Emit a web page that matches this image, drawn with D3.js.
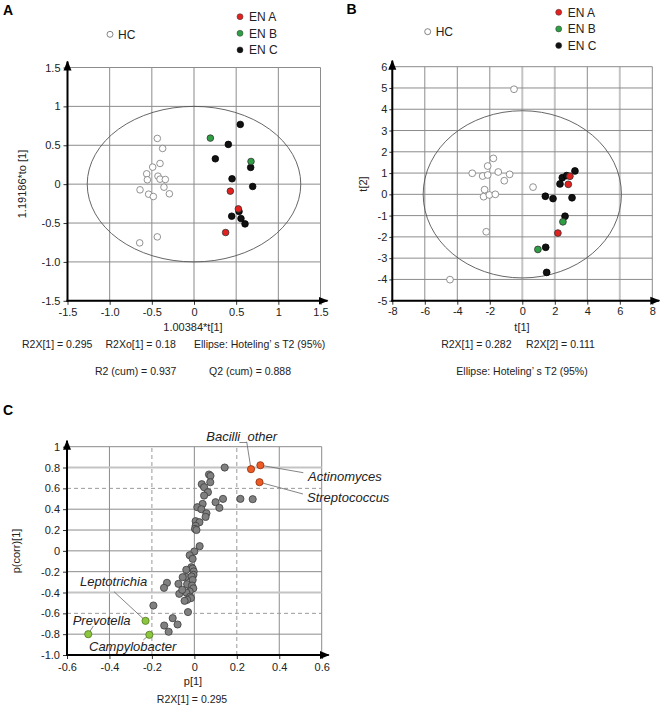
<!DOCTYPE html>
<html><head><meta charset="utf-8">
<script src="https://cdn.jsdelivr.net/npm/d3@7"></script>
<style>
body{margin:0;background:#fff;}
svg{display:block;font-family:"Liberation Sans",Arial,sans-serif;}
</style></head>
<body>
<svg id="chart" width="660" height="709"></svg>
<script>
// ---------- DATA ----------
// Panel A : OPLS-DA scores  [t1*, to*]
const aHC = [[-0.435,0.588],[-0.372,0.459],[-0.403,0.266],[-0.49,0.219],[-0.561,0.133],[-0.553,0.056],[-0.427,0.103],[-0.403,0.064],[-0.34,0.06],[-0.356,-0.039],[-0.64,-0.073],[-0.538,-0.129],[-0.482,-0.159],[-0.292,-0.124],[-0.435,-0.678],[-0.644,-0.755]];
const aENC = [[0.549,0.768],[0.407,0.511],[0.253,0.326],[0.672,0.215],[0.451,0.069],[0.696,-0.03],[0.534,-0.352],[0.447,-0.412],[0.557,-0.442],[0.605,-0.511]];
const aENB = [[0.194,0.592],[0.676,0.292]];
const aENA = [[0.431,-0.09],[0.526,-0.318],[0.375,-0.622]];
const aEllipse = [1.266, 1.0];
const aTicks = [-1.5,-1,-0.5,0,0.5,1,1.5];
const aTickLabels = ["-1.5","-1.0","-0.5","0","0.5","1","1.5"];

// Panel B : PCA scores [t1, t2]
const bHC = [[-0.51,4.94],[-1.78,1.69],[-2.13,1.33],[-3.08,0.99],[-2.44,0.86],[-2.13,0.91],[-1.48,1.05],[-0.78,0.94],[-1.11,0.64],[0.66,0.34],[-2.32,0.22],[-2.38,-0.11],[-2.03,-0.03],[-1.66,0.0],[-2.22,-1.76],[-4.45,-4.01]];
const bENC = [[3.24,1.10],[2.46,0.78],[2.73,0.88],[2.32,0.49],[1.42,-0.09],[1.89,-0.20],[3.06,-0.16],[2.63,-1.03],[1.44,-2.49],[1.50,-3.67]];
const bENB = [[2.50,-1.29],[0.96,-2.59]];
const bENA = [[2.93,0.85],[2.83,0.47],[2.19,-1.82]];
const bEllipse = [6.1, 3.93];
const bXTicks = [-8,-6,-4,-2,0,2,4,6,8];
const bYTicks = [-5,-4,-3,-2,-1,0,1,2,3,4,5,6];

// Panel C : S-plot [p1, p(corr)1]
const cGray = [[0.143,0.80],[0.069,0.733],[0.076,0.72],[0.075,0.659],[0.035,0.64],[0.046,0.611],[0.064,0.563],[0.046,0.531],[0.135,0.499],[0.217,0.499],[0.275,0.496],[0.100,0.467],[0.118,0.413],[0.039,0.451],[0.014,0.419],[0.033,0.400],[0.057,0.361],[0.053,0.326],[0.006,0.285],[0.024,0.275],[0.006,0.240],[0.003,0.211],[0.010,0.200],[0.025,0.045],[0.000,-0.006],[-0.022,-0.042],[-0.008,-0.077],[-0.014,-0.157],[-0.008,-0.170],[-0.038,-0.182],[-0.003,-0.198],[-0.004,-0.23],[-0.040,-0.250],[-0.055,-0.253],[-0.013,-0.246],[-0.008,-0.28],[-0.129,-0.307],[-0.075,-0.317],[-0.034,-0.320],[-0.143,-0.355],[-0.011,-0.333],[-0.005,-0.36],[-0.022,-0.390],[-0.038,-0.400],[-0.071,-0.413],[-0.057,-0.374],[-0.02,-0.44],[-0.016,-0.454],[-0.034,-0.470],[-0.046,-0.480],[-0.030,-0.588],[-0.193,-0.525],[-0.142,-0.717],[-0.121,-0.777],[-0.102,-0.646],[-0.079,-0.707]];
const cOrangeNames = ["Bacilli_other","Actinomyces","Streptococcus"];
const cOrange = [[0.267,0.784],[0.311,0.822],[0.307,0.659]];
const cGreenNames = ["Leptotrichia","Prevotella","Campylobacter"];
const cGreen = [[-0.23,-0.672],[-0.5,-0.80],[-0.212,-0.806]];
const cXTicks = [-0.6,-0.4,-0.2,0,0.2,0.4,0.6];
const cXTickLabels = ["-0.6","-0.4","-0.2","0","0.2","0.4","0.6"];
const cYTicks = [-1,-0.8,-0.6,-0.4,-0.2,0,0.2,0.4,0.6,0.8,1];
const cYTickLabels = ["-1.0","-0.8","-0.6","-0.4","-0.2","0","0.2","0.4","0.6","0.8","1"];

const groups = ["HC","EN A","EN B","EN C"];
const groupColors = {"HC":"#ffffff","EN A":"#e3211f","EN B":"#2f9e44","EN C":"#111111"};

// ---------- DRAW ----------
const svg = d3.select("#chart");
svg.append("rect").attr("width",660).attr("height",709).attr("fill","#fff");

const defs = svg.append("defs");
defs.append("marker").attr("id","arrow").attr("viewBox","0 0 10 10")
  .attr("refX",9).attr("refY",5).attr("markerWidth",5).attr("markerHeight",5)
  .attr("markerUnits","strokeWidth").attr("orient","auto")
  .append("path").attr("d","M0,1 L10,5 L0,9 Z").attr("fill","#000");

const GRID = "#8c8c8c", LIGHT = "#c4c4c4";

function frame(g, x, y, xt, yt, xLab, yLab, opts){
  const [x0,x1] = x.range(), [y0,y1] = y.range();
  xt.forEach(v=>{
    const st = (opts.xStyle && opts.xStyle(v)) || "solid";
    g.append("line").attr("x1",x(v)).attr("x2",x(v)).attr("y1",y0).attr("y2",y1)
      .attr("stroke", st==="light"?LIGHT:(st==="dash"?"#9a9a9a":GRID))
      .attr("stroke-width", st==="light"?2:1)
      .attr("stroke-dasharray", st==="dash"?"4,3":null);
  });
  yt.forEach(v=>{
    const st = (opts.yStyle && opts.yStyle(v)) || "solid";
    g.append("line").attr("y1",y(v)).attr("y2",y(v)).attr("x1",x0).attr("x2",x1)
      .attr("stroke", st==="light"?LIGHT:(st==="dash"?"#9a9a9a":GRID))
      .attr("stroke-width", st==="light"?2:1)
      .attr("stroke-dasharray", st==="dash"?"4,3":null);
  });
  const ax = g.append("g").attr("transform",`translate(0,${y0})`)
    .call(d3.axisBottom(x).tickValues(xt).tickFormat((d,i)=>xLab[i]).tickSizeInner(4).tickSizeOuter(0).tickPadding(opts.xPad||3));
  const ay = g.append("g").attr("transform",`translate(${x0},0)`)
    .call(d3.axisLeft(y).tickValues(yt).tickFormat((d,i)=>yLab[i]).tickSizeInner(opts.yTick||4).tickSizeOuter(0).tickPadding(opts.yPad||3));
  [ax,ay].forEach(a=>{
    a.select(".domain").remove();
    a.selectAll("text").attr("font-size",11).attr("fill","#222").attr("font-family","Liberation Sans, Arial, sans-serif");
    a.selectAll("line").attr("stroke","#333");
  });
  g.append("line").attr("x1",x0).attr("y1",y0+1).attr("x2",x0).attr("y2",y1-6)
    .attr("stroke","#000").attr("stroke-width",2).attr("marker-end","url(#arrow)");
  g.append("line").attr("x1",x0-1).attr("y1",y0).attr("x2",x1+7).attr("y2",y0)
    .attr("stroke","#000").attr("stroke-width",2).attr("marker-end","url(#arrow)");
}

function dots(g, data, x, y, fill, stroke, r){
  g.selectAll(null).data(data).enter().append("circle")
    .attr("cx",d=>x(d[0])).attr("cy",d=>y(d[1])).attr("r",r)
    .attr("fill",fill).attr("stroke",stroke).attr("stroke-width",0.8);
}

function txt(g, s, x, y, o={}){
  const t = g.append("text").attr("x",x).attr("y",y).text(s)
    .attr("font-size",o.size||11).attr("fill",o.fill||"#222")
    .attr("text-anchor",o.anchor||"start");
  if(o.weight) t.attr("font-weight",o.weight);
  if(o.italic) t.attr("font-style","italic");
  if(o.rotate) t.attr("transform",`rotate(-90,${x},${y})`);
  t.style("white-space","pre");
  return t;
}

function legend(g, hcPos, enPos){
  g.append("circle").attr("cx",hcPos[0]).attr("cy",hcPos[1]).attr("r",3).attr("fill","#fff").attr("stroke","#666").attr("stroke-width",0.8);
  txt(g,"HC",hcPos[0]+8,hcPos[1]+4.5,{size:12});
  ["EN A","EN B","EN C"].forEach((k,i)=>{
    const cy = enPos[1]+i*16.6;
    g.append("circle").attr("cx",enPos[0]).attr("cy",cy).attr("r",3).attr("fill",groupColors[k]).attr("stroke","#333").attr("stroke-width",0.5);
    txt(g,k,enPos[0]+9,cy+4.5,{size:12});
  });
}

// ----- Panel A -----
{
  const g = svg.append("g");
  const x = d3.scaleLinear().domain([-1.5,1.5]).range([67.5,320.5]);
  const y = d3.scaleLinear().domain([-1.5,1.5]).range([300.8,67.5]);
  frame(g,x,y,aTicks,aTicks,aTickLabels,aTickLabels,{xStyle:v=>v===0?"light":"solid"});
  g.append("ellipse").attr("cx",x(0)).attr("cy",y(0)).attr("rx",x(aEllipse[0])-x(0)).attr("ry",y(0)-y(aEllipse[1]))
    .attr("fill","none").attr("stroke","#555").attr("stroke-width",0.9);
  dots(g,aHC,x,y,"#fff","#777",3.3);
  dots(g,aENC,x,y,groupColors["EN C"],"#000",3.3);
  dots(g,aENB,x,y,groupColors["EN B"],"#333",3.3);
  dots(g,aENA,x,y,groupColors["EN A"],"#333",3.3);
  txt(g,"A",3,15,{size:14,weight:"bold",fill:"#000"});
  legend(g,[110,34.3],[240,16.7]);
  txt(g,"1.00384*t[1]",193,331,{anchor:"middle"});
  txt(g,"1.19186*to [1]",26,184,{anchor:"middle",rotate:true});
  txt(g,"R2X[1] = 0.295",22,348,{size:10.5});
  txt(g,"R2Xo[1] = 0.18",105.5,348,{size:10.5});
  txt(g,"Ellipse: Hoteling’ s T2 (95%)",194,348,{size:10.5});
  txt(g,"R2 (cum) = 0.937",95,375,{size:10.5});
  txt(g,"Q2 (cum) = 0.888",291,375,{size:10.5,anchor:"end"});
}

// ----- Panel B -----
{
  const g = svg.append("g");
  const x = d3.scaleLinear().domain([-8,8]).range([392.3,652.3]);
  const y = d3.scaleLinear().domain([-5,6]).range([300.7,66.7]);
  frame(g,x,y,bXTicks,bYTicks,bXTicks.map(String),bYTicks.map(String),
    {xStyle:v=>(v===0||v===2||v===6)?"light":"solid", yTick:3, yPad:2});
  g.append("ellipse").attr("cx",x(0)).attr("cy",y(0)).attr("rx",x(bEllipse[0])-x(0)).attr("ry",y(0)-y(bEllipse[1]))
    .attr("fill","none").attr("stroke","#555").attr("stroke-width",0.9);
  dots(g,bHC,x,y,"#fff","#777",3.4);
  dots(g,bENC,x,y,groupColors["EN C"],"#000",3.4);
  dots(g,bENB,x,y,groupColors["EN B"],"#333",3.4);
  dots(g,bENA,x,y,groupColors["EN A"],"#333",3.4);
  txt(g,"B",346.5,14,{size:14,weight:"bold",fill:"#000"});
  legend(g,[427.7,31.7],[558.7,12.3]);
  txt(g,"t[1]",522,331,{anchor:"middle"});
  txt(g,"t[2]",367,184,{anchor:"middle",rotate:true});
  txt(g,"R2X[1] = 0.282     R2X[2] = 0.111",518,348,{anchor:"middle",size:10.5});
  txt(g,"Ellipse: Hoteling’ s T2 (95%)",522,375,{anchor:"middle",size:10.5});
}

// ----- Panel C -----
{
  const g = svg.append("g");
  const x = d3.scaleLinear().domain([-0.6,0.6]).range([67,321.7]);
  const y = d3.scaleLinear().domain([-1,1]).range([655,446.7]);
  frame(g,x,y,cXTicks,cYTicks,cXTickLabels,cYTickLabels,{
    xStyle:v=>Math.abs(Math.abs(v)-0.2)<1e-9?"dash":"solid",
    yStyle:v=>Math.abs(Math.abs(v)-0.6)<1e-9?"dash":((Math.abs(v-0.8)<1e-9||Math.abs(v+0.4)<1e-9)?"light":"solid"),
    xPad:4});
  const lead = "#666";
  const orangeAnchors = [[246.7,441.7],[303.3,472.7],[303,494]];
  const greenAnchors = [[114,591.7],[93.3,626],[143.3,640]];
  cOrange.forEach((d,i)=>g.append("line").attr("x1",x(d[0])).attr("y1",y(d[1])).attr("x2",orangeAnchors[i][0]).attr("y2",orangeAnchors[i][1]).attr("stroke",lead).attr("stroke-width",0.8));
  cGreen.forEach((d,i)=>g.append("line").attr("x1",x(d[0])).attr("y1",y(d[1])).attr("x2",greenAnchors[i][0]).attr("y2",greenAnchors[i][1]).attr("stroke",lead).attr("stroke-width",0.8));
  dots(g,cGray,x,y,"#808080","#3c3c3c",3.6);
  dots(g,cOrange,x,y,"#ee5a24","#8a2e10",3.6);
  dots(g,cGreen,x,y,"#8cc63f","#4f7a1f",3.6);
  txt(g,"C",3,415,{size:14,weight:"bold",fill:"#000"});
  txt(g,cOrangeNames[0],241.7,441,{anchor:"middle",size:13,italic:true});
  txt(g,cOrangeNames[1],308,480.5,{size:13,italic:true});
  txt(g,cOrangeNames[2],307,501.5,{size:13,italic:true});
  txt(g,cGreenNames[0],80,586,{size:13,italic:true});
  txt(g,cGreenNames[1],72.7,624.5,{size:13,italic:true});
  txt(g,cGreenNames[2],89,650.5,{size:13,italic:true});
  txt(g,"p[1]",193,684.5,{anchor:"middle"});
  txt(g,"p(corr)[1]",20,551,{anchor:"middle",rotate:true});
  txt(g,"R2X[1] = 0.295",192,703,{anchor:"middle",size:10.5});
}
</script>
</body></html>
